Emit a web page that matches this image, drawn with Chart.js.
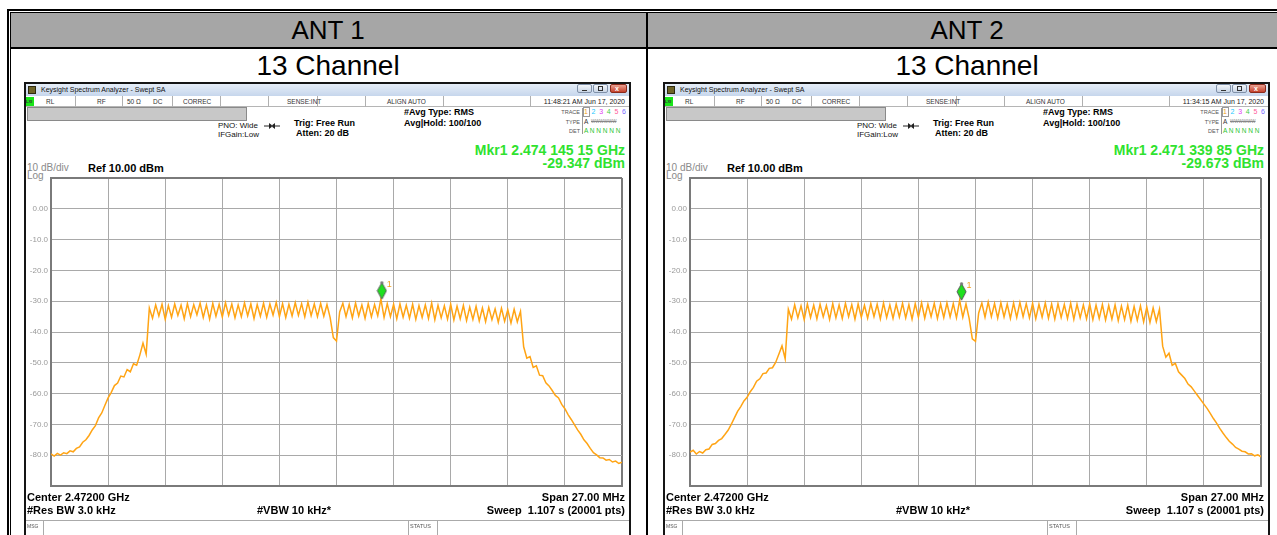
<!DOCTYPE html>
<html>
<head>
<meta charset="utf-8">
<title>ANT 1 / ANT 2 - 13 Channel</title>
<script src="https://cdn.jsdelivr.net/npm/chart.js@4.4.1/dist/chart.umd.min.js"></script>
<style>
html, body { margin: 0; padding: 0; background: #fff; overflow: hidden; }
body { position: relative; width: 1277px; height: 535px; font-family: "Liberation Sans", Arial, sans-serif; color: #000; }
.a { position: absolute; }
.t { position: absolute; white-space: pre; height: 16px; line-height: 16px; }
.win { position: absolute; top: 82px; width: 607px; height: 470px; background: #fff; box-shadow: inset 0 0 0 2px #151515; overflow: hidden; }
.win canvas { position: absolute; left: 2px; top: 90px; }
.cell { position: absolute; text-align: center; font-size: 26px; height: 34px; line-height: 34px; }
.ch { font-size: 28px; }
</style>
</head>
<body>
<!-- table frame -->
<div class="a" style="left:7px;top:9px;width:1300px;height:2px;background:#000"></div>
<div class="a" style="left:10px;top:12px;width:1300px;height:1px;background:#000"></div>
<div class="a" style="left:7px;top:9px;width:2px;height:600px;background:#000"></div>
<div class="a" style="left:10px;top:12px;width:1px;height:600px;background:#000"></div>
<div class="a" style="left:11px;top:13px;width:1300px;height:34px;background:#a6a6a6"></div>
<div class="a" style="left:10px;top:47px;width:1300px;height:2px;background:#000"></div>
<div class="a" style="left:646px;top:12px;width:2px;height:600px;background:#000"></div>
<div class="cell" style="left:10px;top:13px;width:636px">ANT 1</div>
<div class="cell" style="left:648px;top:13px;width:638px">ANT 2</div>
<div class="cell ch" style="left:10px;top:49px;width:636px">13 Channel</div>
<div class="cell ch" style="left:648px;top:49px;width:638px">13 Channel</div>

<script>
// sweep: centre 2472 MHz, span 27 MHz, one reading every 0.15 MHz
const sweepStartMHz = 2458.5;
const sweepStopMHz = 2485.5;
const sweepStepMHz = 0.15;
const freqGridMHz = [2458.5, 2461.2, 2463.9, 2466.6, 2469.3, 2472.0, 2474.7, 2477.4, 2480.1, 2482.8, 2485.5];
const levelTicks = [-90, -80, -70, -60, -50, -40, -30, -20, -10, 0, 10];
const levelLabels = ['', '-80.0', '-70.0', '-60.0', '-50.0', '-40.0', '-30.0', '-20.0', '-10.0', '0.00', ''];

// ANT 1 trace (dBm)
const ant1Trace = [
  -79.6, -80.3, -79.4, -80.0, -79.2, -79.5, -78.6, -78.9, -77.8, -77.3,
  -75.8, -75.0, -73.6, -71.8, -70.4, -67.9, -66.3, -63.8, -61.4, -59.6,
  -57.4, -56.6, -54.3, -54.6, -52.2, -52.9, -50.3, -50.8, -47.5, -43.6,
  -47.2,
  -32.2, -35.5, -31.2, -34.8, -31.0, -35.9, -31.4, -35.2, -30.9, -34.6,
  -31.3, -35.7, -30.8, -35.0, -31.1, -34.4, -30.6, -35.3, -31.2, -35.8,
  -30.7, -34.9, -31.0, -35.1, -30.5, -34.6, -30.9, -35.4, -31.2, -35.0,
  -30.6, -34.7, -30.9, -35.6, -31.1, -34.9, -30.7, -35.2, -30.9, -34.5,
  -30.4, -35.0, -30.8, -35.3, -31.0, -34.8, -30.5, -34.6, -30.8, -35.1,
  -30.3, -34.7, -30.9, -35.0, -30.7, -34.9, -31.1, -35.3,
  -41.8, -42.9, -33.5,
  -30.7, -35.0, -31.0, -35.4, -30.6, -34.8, -31.2, -35.6, -30.8, -35.1,
  -31.1, -34.7, -29.3, -35.3, -30.8, -35.0, -31.0, -35.7, -30.9, -35.2,
  -31.3, -35.5, -31.0, -35.9, -31.4, -35.3, -31.2, -35.6, -30.6, -36.0,
  -31.3, -35.4, -31.5, -35.8, -31.0, -36.1, -31.6, -35.7, -31.4, -36.3,
  -31.9, -35.9, -31.7, -36.4, -32.2, -36.6, -32.0, -36.0, -32.5, -36.8,
  -32.3, -36.5, -32.8, -37.1, -32.6, -36.7, -33.3,
  -44.8, -48.5, -48.0, -51.5, -51.0, -54.0, -54.2, -56.5, -57.5, -59.0,
  -60.6, -61.4, -63.5, -64.9, -66.8, -68.4, -70.1, -71.8, -73.2, -75.0,
  -76.2, -77.8, -79.2, -79.9, -80.8, -80.9, -81.6, -81.4, -82.2, -81.9,
  -82.7, -82.3
];

// ANT 2 trace (dBm)
const ant2Trace = [
  -79.0, -78.4, -79.6, -78.8, -79.3, -78.2, -78.0, -76.5, -76.2, -75.2,
  -74.6, -73.3, -71.9, -70.0, -67.9, -65.8, -64.2, -62.4, -61.2, -59.4,
  -58.0, -56.0, -55.2, -53.5, -53.3, -51.8, -51.6, -49.9, -47.2, -44.5,
  -48.7,
  -32.6, -35.8, -31.2, -35.4, -31.5, -36.0, -30.9, -35.3, -31.3, -35.7,
  -31.0, -35.1, -31.4, -35.9, -30.8, -35.4, -31.2, -35.6, -30.7, -35.0,
  -31.1, -35.8, -30.9, -35.2, -31.3, -35.5, -30.8, -35.0, -31.0, -35.7,
  -30.6, -35.3, -31.2, -35.6, -30.9, -35.1, -30.7, -35.4, -31.1, -35.8,
  -30.8, -35.2, -30.5, -35.5, -31.0, -35.0, -30.7, -35.6, -30.9, -35.3,
  -30.6, -35.1, -30.8, -35.4, -29.7, -35.2, -30.9, -35.6,
  -42.2, -43.0, -33.8,
  -30.6, -35.2, -30.3, -35.0, -30.8, -35.5, -30.5, -35.1, -30.9, -35.6,
  -30.6, -35.3, -30.4, -35.0, -30.8, -35.4, -30.7, -35.7, -31.0, -35.2,
  -30.6, -35.5, -30.9, -35.8, -30.8, -35.3, -31.1, -35.6, -30.7, -35.9,
  -31.0, -35.4, -31.2, -35.7, -30.9, -36.0, -31.3, -35.6, -31.1, -36.1,
  -31.4, -35.8, -31.2, -36.3, -31.6, -36.0, -31.3, -36.5, -31.7, -36.2,
  -31.5, -36.7, -31.9, -36.9, -32.2, -36.6, -32.6,
  -44.6, -48.2, -46.9, -50.8, -50.2, -52.9, -54.0, -55.1, -56.9, -57.8,
  -59.2, -60.6, -62.0, -63.4, -64.8, -66.4, -68.1, -69.6, -71.3, -72.8,
  -74.2, -75.5, -76.4, -77.5, -78.0, -78.7, -78.9, -79.6, -79.5, -80.2,
  -79.9, -80.5
];

// marker 1 (frequency MHz, level dBm) and header texts
const mkrFreqMHz = [2474.14515, 2471.33985];
const mkrLevel = [-29.347, -29.673];
const mkrFreqText = ['2.474 145 15 GHz', '2.471 339 85 GHz'];
const mkrLevelText = ['-29.347 dBm', '-29.673 dBm'];
const timeText = ['11:48:21 AM Jun 17, 2020', '11:34:15 AM Jun 17, 2020'];
const windowLeft = [24, 663];

const traceColor = '#ffa414';
const mkrGreen = '#2fe22f';

Chart.defaults.font.family = '"Liberation Sans", Arial, sans-serif';

function t(x, y, s, css) {
    return `<div class="t" style="left:${x}px;top:${y - 8}px;${css || ''}">${s}</div>`;
}
function tr(x, y, s, css) {
    return `<div class="t" style="right:${607 - x}px;top:${y - 8}px;text-align:right;${css || ''}">${s}</div>`;
}
function box(x, y, w, h, css) {
    return `<div class="a" style="left:${x}px;top:${y}px;width:${w}px;height:${h}px;${css || ''}"></div>`;
}

function panelHtml(k) {
    let h = '';
    // title bar
    h += box(2, 2, 603, 12, 'background:linear-gradient(#e6eef8,#c6d6ec)');
    h += box(4, 4, 8, 8, 'background:#6e6428;border:1px solid #2d2a10;box-sizing:border-box');
    h += t(17, 8, 'Keysight Spectrum Analyzer - Swept SA', 'font-size:7px;color:#111');
    h += box(553, 2, 15, 9, 'background:linear-gradient(#f4f7fb,#c9d5e6);border:1px solid #7f90a8;border-radius:2px;box-sizing:border-box');
    h += box(558, 8, 5, 1, 'background:#333');
    h += box(569, 2, 15, 9, 'background:linear-gradient(#f4f7fb,#c9d5e6);border:1px solid #7f90a8;border-radius:2px;box-sizing:border-box');
    h += box(574, 4, 5, 5, 'border:1px solid #333;box-sizing:border-box');
    h += box(586, 2, 17, 9, 'background:linear-gradient(#eba192,#c4412b);border:1px solid #8a2a1c;border-radius:2px;box-sizing:border-box');
    h += t(591, 6.5, 'x', 'font-size:7px;font-weight:bold;color:#fff');

    // status bar
    h += box(2, 14, 603, 11, 'background:#fff;border-bottom:1px solid #b5b5b5;box-sizing:border-box');
    h += box(2, 15, 8, 9, 'background:#19e619');
    h += t(2, 19.5, 'LXI', 'font-size:4px;font-weight:bold;color:#333');
    [51, 98, 148, 196, 244, 293, 341, 419, 506].forEach(function(x) {
        h += box(x, 14, 1, 11, 'background:#b0b0b0');
    });
    const st = 'font-size:6.5px;color:#333';
    h += t(22, 19.5, 'RL', st);
    h += t(73, 19.5, 'RF', st);
    h += t(103, 19.5, '50 Ω', st);
    h += t(129, 19.5, 'DC', st);
    h += t(159, 19.5, 'CORREC', st);
    h += t(263, 19.5, 'SENSE:INT', st);
    h += t(363, 19.5, 'ALIGN AUTO', st);
    h += tr(601, 19.5, timeText[k], 'font-size:7px;color:#222');

    // settings area
    h += box(3, 25, 220, 14, 'background:#c8c8c8;border:1px solid #8a8a8a;box-sizing:border-box');
    h += t(194, 44, 'PNO: Wide', 'font-size:8px;color:#111');
    h += t(194, 53, 'IFGain:Low', 'font-size:8px;color:#111');
    h += `<svg class="a" style="left:240px;top:40px" width="16" height="8"><line x1="0" y1="4" x2="16" y2="4" stroke="#222" stroke-width="1"/><path d="M5 1 L9 4 L5 7 Z M11 1 L7 4 L11 7 Z" fill="#222"/></svg>`;
    const bd = 'font-size:9px;font-weight:bold';
    h += t(270, 41, 'Trig: Free Run', bd);
    h += t(272, 51, 'Atten: 20 dB', bd);
    h += t(380, 30, '#Avg Type: RMS', bd);
    h += t(380, 41, 'Avg|Hold: 100/100', bd);

    const sm = 'font-size:5.5px;color:#555';
    h += tr(556, 30, 'TRACE', sm);
    h += tr(556, 40, 'TYPE', sm);
    h += tr(556, 49, 'DET', sm);
    h += box(558, 26, 1, 26, 'background:#999');
    const digitColors = ['#f0a020', '#19c8ff', '#e040f0', '#44d044', '#ff5a9a', '#7a6aff'];
    digitColors.forEach(function(c, i) {
        h += t(560 + i * 7.6, 30, String(i + 1), 'font-size:7px;color:' + c);
    });
    h += box(559, 25, 7, 10, 'border:1px solid #999;box-sizing:border-box');
    h += t(560, 40, 'A', 'font-size:6.5px;color:#333');
    h += t(567, 40, 'WWWWWW', 'font-size:4.5px;color:#888;text-decoration:line-through');
    h += t(560, 49, 'A N N N N N', 'font-size:6.5px;color:#2cc42c');

    // marker readout
    h += tr(601, 68, 'Mkr1 ' + mkrFreqText[k], 'font-size:14px;font-weight:bold;color:' + mkrGreen);
    h += tr(601, 81, mkrLevelText[k], 'font-size:14px;font-weight:bold;color:' + mkrGreen);

    h += t(3, 86, '10 dB/div', 'font-size:10px;color:#8a8a8a');
    h += t(3, 94, 'Log', 'font-size:10px;color:#8a8a8a');
    h += t(64, 86, 'Ref 10.00 dBm', 'font-size:11px;font-weight:bold');

    h += '<canvas width="602" height="320"></canvas>';

    // footer
    const ft = 'font-size:11px;font-weight:bold';
    h += t(3, 415, 'Center 2.47200 GHz', ft);
    h += t(3, 428, '#Res BW 3.0 kHz', ft);
    h += t(233, 428, '#VBW 10 kHz*', ft);
    h += tr(601, 415, 'Span 27.00 MHz', ft);
    h += tr(601, 428, 'Sweep  1.107 s (20001 pts)', ft);
    h += box(2, 438, 603, 1, 'background:#aaa');
    h += box(19, 438, 1, 30, 'background:#aaa');
    h += t(3, 444, 'MSG', 'font-size:5px;color:#555');
    h += box(384, 438, 1, 30, 'background:#aaa');
    h += box(413, 438, 1, 30, 'background:#aaa');
    h += t(386, 444, 'STATUS', 'font-size:5.5px;color:#555');
    return h;
}

function makeMarkerIcon() {
    const c = document.createElement('canvas');
    c.width = 11;
    c.height = 38;
    const g = c.getContext('2d');
    g.beginPath();
    g.moveTo(5.5, 2.5);
    g.lineTo(10, 10.5);
    g.lineTo(5.5, 19);
    g.lineTo(1, 10.5);
    g.closePath();
    g.fillStyle = '#1fe01f';
    g.fill();
    g.strokeStyle = '#555';
    g.lineWidth = 1;
    g.stroke();
    g.beginPath();
    g.arc(5.5, 2.5, 1.6, 0, Math.PI * 2);
    g.fillStyle = '#777';
    g.fill();
    return c;
}
const markerIcon = makeMarkerIcon();

// the small "1" next to the marker
const markerNumber = {
    id: 'markerNumber',
    afterDatasetsDraw(chart) {
        const pt = chart.getDatasetMeta(1).data[0];
        if (!pt) return;
        const ctx = chart.ctx;
        ctx.save();
        ctx.fillStyle = '#f0a020';
        ctx.font = '9px "Liberation Sans", Arial';
        ctx.textBaseline = 'middle';
        ctx.fillText('1', pt.x + 5, pt.y - 15);
        ctx.restore();
    }
};

function edgeColor(ctx) {
    return (ctx.index === 0 || ctx.index === 10) ? '#7a7a7a' : '#a9a9a9';
}
function edgeWidth(ctx) {
    return (ctx.index === 0 || ctx.index === 10) ? 2 : 1;
}

function drawSpectrum(canvas, trace, k) {
    let points = trace.map(function(v, i) {
        return { x: sweepStartMHz + i * sweepStepMHz, y: v };
    });
    new Chart(canvas.getContext('2d'), {
        type: 'line',
        data: {
            datasets: [{
                data: points,
                borderColor: traceColor,
                borderWidth: 1.5,
                pointRadius: 0,
                tension: 0,
                order: 2
            }, {
                type: 'scatter',
                data: [{ x: mkrFreqMHz[k], y: mkrLevel[k] }],
                pointStyle: markerIcon,
                pointRadius: 5,
                order: 1
            }]
        },
        options: {
            responsive: false,
            animation: false,
            events: [],
            layout: { padding: { top: 4, right: 3, bottom: 3, left: 0 } },
            plugins: { legend: { display: false }, tooltip: { enabled: false } },
            scales: {
                x: {
                    type: 'linear',
                    min: sweepStartMHz,
                    max: sweepStopMHz,
                    afterBuildTicks: function(s) { s.ticks = freqGridMHz.map(v => ({ value: v })); },
                    afterFit: function(s) { s.height = 0; s.paddingLeft = 0; s.paddingRight = 0; },
                    ticks: { display: false },
                    grid: { color: edgeColor, lineWidth: edgeWidth, drawTicks: false },
                    border: { display: true, color: '#7a7a7a', width: 2 }
                },
                y: {
                    min: -90,
                    max: 10,
                    afterBuildTicks: function(s) { s.ticks = levelTicks.map(v => ({ value: v })); },
                    afterFit: function(s) { s.width = 25; s.paddingTop = 0; s.paddingBottom = 0; },
                    ticks: {
                        color: '#9a9a9a',
                        font: { size: 8 },
                        padding: 3,
                        callback: function(value) { return levelLabels[levelTicks.indexOf(value)]; }
                    },
                    grid: { color: edgeColor, lineWidth: edgeWidth, drawTicks: false },
                    border: { display: true, color: '#7a7a7a', width: 2 }
                }
            }
        },
        plugins: [markerNumber]
    });
}

[ant1Trace, ant2Trace].forEach(function(trace, k) {
    const win = document.createElement('div');
    win.className = 'win';
    win.style.left = windowLeft[k] + 'px';
    win.innerHTML = panelHtml(k);
    document.body.appendChild(win);
    drawSpectrum(win.querySelector('canvas'), trace, k);
});
</script>
</body>
</html>
